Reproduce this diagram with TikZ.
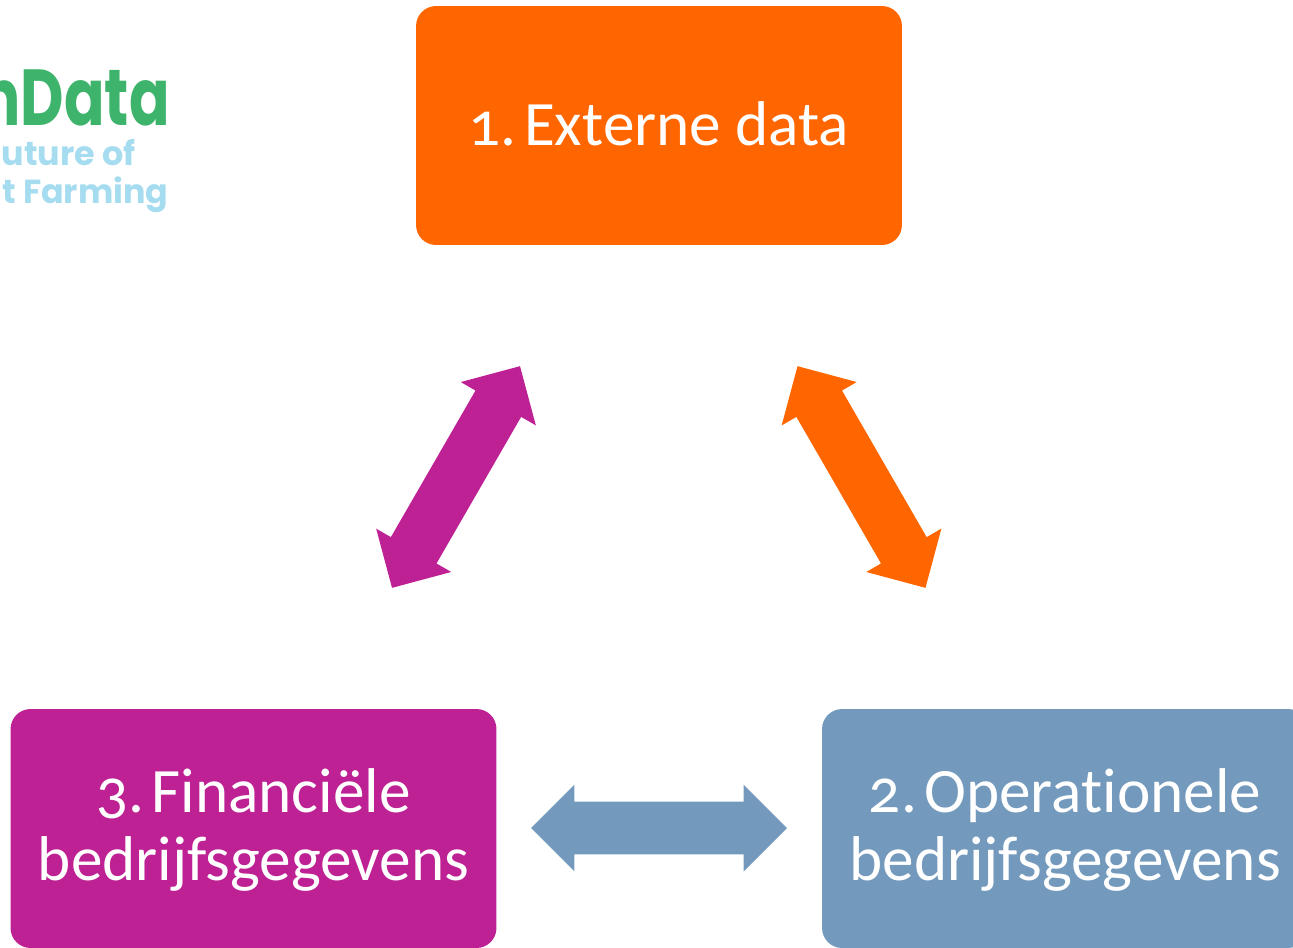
\documentclass[tikz,border=0pt]{standalone}
\usepackage{fontspec}
\setmainfont[Numbers=OldStyle,Ligatures=NoCommon]{Carlito}
\newfontfamily\logofont{Poppins}
\usetikzlibrary{shapes.arrows}
\definecolor{extcolor}{HTML}{FF6600}
\definecolor{fincolor}{HTML}{BE2193}
\definecolor{opcolor}{HTML}{7399BD}
\definecolor{logogreen}{HTML}{3DB36B}
\definecolor{logoblue}{HTML}{A6DCEF}
\newcommand{\numgap}{\kern-0.11em\ }
\tikzset{
	databox/.style={rounded corners=0.4cm, minimum width=9.72cm, minimum height=4.78cm, inner sep=0pt, align=center, text=white, font=\fontsize{36}{38.6}\selectfont},
	linkarrow/.style={shape=double arrow, minimum height=5.12cm, minimum width=1.72cm, inner sep=0.52cm, double arrow head extend=0.34cm, double arrow tip angle=90, double arrow head indent=0pt},
	logoname/.style={anchor=base east, inner sep=0pt, text=logogreen, xscale=0.85, yscale=1.13, font=\logofont\fontsize{40}{40}\selectfont\bfseries},
	logotext/.style={anchor=base east, inner sep=0pt, text=logoblue, font=\logofont\fontsize{19}{19}\selectfont\bfseries},
}
\begin{document}
\begin{tikzpicture}[x=0.02cm,y=-0.02cm]
	\useasboundingbox (0,0) rectangle (1293,947);
	\clip (0,0) rectangle (1293,947);
	\node [databox, fill=extcolor] (extern) at (659,125.5) {\raisebox{2pt}{1.\numgap Externe data}};
	\node [databox, fill=opcolor, text depth=4.5pt] (operational) at (1065,828.5) {2.\numgap Operationele\\bedrijfsgegevens};
	\node [databox, fill=fincolor, text depth=4.5pt] (financial) at (253.5,828.5) {3.\numgap Financiële\\bedrijfsgegevens};
	\node [linkarrow, fill=fincolor, rotate=60] (finlink) at (456,477) {};
	\node [linkarrow, fill=extcolor, rotate=-60] (extlink) at (861.5,477) {};
	\node [linkarrow, fill=opcolor] (oplink) at (659,828) {};
	\node [logoname] (logomark) at (170,125) {nData};
	\node [logotext] (logoline) at (136,165) {uture of};
	\node [logotext] (logofarm) at (169,203) {t Farming};
\end{tikzpicture}
\end{document}
